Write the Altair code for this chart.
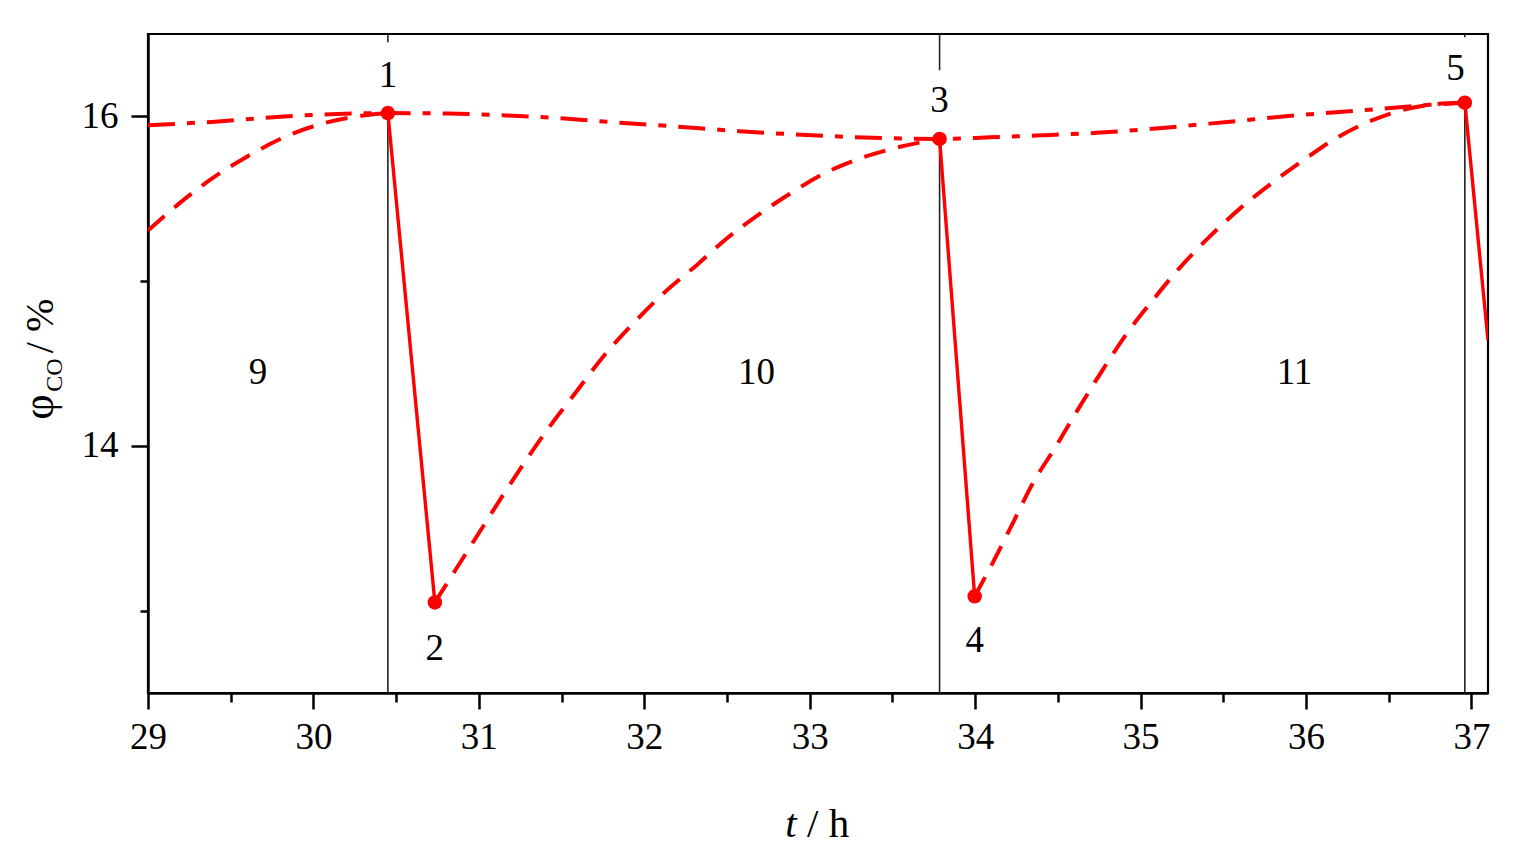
import altair as alt
import pandas as pd

# ---------------- data ----------------
# upper envelope (dash-dot)
env_t = [29.0, 29.405, 29.8, 30.106, 30.45, 30.813, 31.157, 31.52, 31.67, 32.17,
         32.577, 32.98, 33.38, 33.785, 34.09, 34.37, 34.73, 35.13, 35.54, 35.94,
         36.34, 36.75, 36.96]
env_v = [15.946, 15.968, 15.998, 16.013, 16.02, 16.017, 16.006, 15.987, 15.975, 15.94,
         15.91, 15.887, 15.87, 15.863, 15.873, 15.884, 15.90, 15.93, 15.968, 16.006,
         16.037, 16.07, 16.083]

# recovery curves (dashed)
recA_t = [29.0, 29.193, 29.39, 29.598, 29.816, 30.04, 30.28, 30.45]
recA_v = [15.307, 15.475, 15.625, 15.755, 15.87, 15.952, 16.002, 16.02]
recB_t = [30.734, 30.867, 31.006, 31.139, 31.29, 31.43, 31.59, 31.75, 31.93, 32.11,
          32.32, 32.5, 32.7, 32.88, 33.08, 33.29, 33.485, 33.785]
recB_v = [13.05, 13.26, 13.48, 13.69, 13.92, 14.12, 14.33, 14.54, 14.74, 14.92,
          15.10, 15.26, 15.41, 15.53, 15.65, 15.74, 15.80, 15.863]
recC_t = [33.997, 34.106, 34.227, 34.347, 34.49, 34.63, 34.77, 34.915, 35.07, 35.236,
          35.417, 35.6, 35.8, 36.02, 36.17, 36.34, 36.52, 36.75, 36.96]
recC_v = [13.087, 13.29, 13.53, 13.77, 14.00, 14.235, 14.46, 14.68, 14.88, 15.08,
          15.27, 15.44, 15.60, 15.76, 15.86, 15.95, 16.02, 16.07, 16.083]

# marked points 1..5
pt_label = ["1", "2", "3", "4", "5"]
pt_t = [30.45, 30.734, 33.785, 33.997, 36.96]
pt_v = [16.02, 13.05, 15.863, 13.087, 16.083]

# solid drops (segment id, t, v)
drop_seg = ["a", "a", "b", "b", "c", "c"]
drop_t = [30.45, 30.734, 33.785, 33.997, 36.96, 37.1]
drop_v = [16.02, 13.05, 15.863, 13.087, 16.083, 14.64]

# vertical separators
sep_t = [30.45, 33.785, 36.96]
sep_top = [16.02, 15.863, 16.083]
stub_bottom = [16.45, 16.28, 16.48]

# point number labels
num_t = [30.45, 30.734, 33.785, 33.997, 36.903]
num_v = [16.244, 12.766, 16.093, 12.816, 16.285]
# period labels
per_label = ["9", "10", "11"]
per_t = [29.665, 32.678, 35.93]
per_v = [14.44, 14.44, 14.44]

x_values = [29, 29.5, 30, 30.5, 31, 31.5, 32, 32.5, 33, 33.5, 34, 34.5, 35, 35.5,
            36, 36.5, 37]
y_values = [13, 14, 15, 16]

# ---------------- chart ----------------
FONT = "Liberation Serif"
RED = "#ff0000"
W, H = 1340, 659
YMIN, YMAX = 12.5, 16.5

xs = alt.Scale(domain=[29, 37.1], nice=False, zero=False)
ys = alt.Scale(domain=[YMIN, YMAX], nice=False, zero=False)

x_axis = alt.Axis(
    values=x_values, title=None, grid=False,
    labelExpr="datum.value % 1 == 0 ? toString(datum.value) : ''",
    tickSize={"condition": {"test": "datum.value % 1 != 0", "value": 9}, "value": 16},
    tickWidth=2.5, tickColor="black", domainColor="black", domainWidth=2.5,
    labelFont=FONT, labelFontSize=37, labelColor="black", labelPadding=10,
    labelOverlap=False, labelFlush=False,
)
y_axis = alt.Axis(
    values=y_values, title=None, grid=False,
    labelExpr="datum.value % 2 == 0 ? toString(datum.value) : ''",
    tickSize={"condition": {"test": "datum.value % 2 != 0", "value": 8}, "value": 17},
    tickWidth=2.5, tickColor="black", domainColor="black", domainWidth=2.5,
    labelFont=FONT, labelFontSize=37, labelColor="black", labelPadding=13,
    labelOverlap=False, labelFlush=False,
)


def X(field="t"):
    return alt.X(f"{field}:Q", scale=xs, axis=x_axis)


def Y(field="v"):
    return alt.Y(f"{field}:Q", scale=ys, axis=y_axis)


env_df = pd.DataFrame({"t": env_t, "v": env_v})
rec_df = pd.concat([
    pd.DataFrame({"t": recA_t, "v": recA_v, "c": "A"}),
    pd.DataFrame({"t": recB_t, "v": recB_v, "c": "B"}),
    pd.DataFrame({"t": recC_t, "v": recC_v, "c": "C"}),
])
pt_df = pd.DataFrame({"lab": pt_label, "t": pt_t, "v": pt_v})
drop_df = pd.DataFrame({"seg": drop_seg, "t": drop_t, "v": drop_v})
sep_df = pd.DataFrame({"t": sep_t, "v": sep_top, "v2": [YMIN] * 3})
stub_df = pd.DataFrame({"t": sep_t, "v": [YMAX] * 3, "v2": stub_bottom})
num_df = pd.DataFrame({"lab": pt_label, "t": num_t, "v": num_v})
per_df = pd.DataFrame({"lab": per_label, "t": per_t, "v": per_v})

sep = alt.Chart(sep_df).mark_rule(color="#222222", strokeWidth=1.6).encode(
    x=X(), y=Y(), y2="v2:Q")
stub = alt.Chart(stub_df).mark_rule(color="#222222", strokeWidth=1.6).encode(
    x=X(), y=Y(), y2="v2:Q")

env = alt.Chart(env_df).mark_line(
    color=RED, strokeWidth=4, strokeDash=[27, 12, 8, 12], interpolate="monotone",
    clip=True).encode(x=X(), y=Y())
rec = alt.Chart(rec_df).mark_line(
    color=RED, strokeWidth=4, strokeDash=[22, 13], interpolate="monotone",
    clip=True).encode(x=X(), y=Y(), detail="c:N")
drop = alt.Chart(drop_df).mark_line(
    color=RED, strokeWidth=3.4, clip=True).encode(x=X(), y=Y(), detail="seg:N")
pts = alt.Chart(pt_df).mark_circle(color=RED, size=210, opacity=1).encode(x=X(), y=Y())

nums = alt.Chart(num_df).mark_text(
    font=FONT, fontSize=37, color="black", baseline="middle", align="center"
).encode(x=X(), y=Y(), text="lab:N")
pers = alt.Chart(per_df).mark_text(
    font=FONT, fontSize=37, color="black", baseline="middle", align="center"
).encode(x=X(), y=Y(), text="lab:N")

one = pd.DataFrame({"a": [1]})
# x title: italic t, then " / h"
xt1 = alt.Chart(one).mark_text(text="t", font=FONT, fontSize=41, fontStyle="italic",
                               color="black", align="center", baseline="alphabetic"
                               ).encode(x=alt.value(643), y=alt.value(803))
xt2 = alt.Chart(one).mark_text(text="/ h", font=FONT, fontSize=41, color="black",
                               align="left", baseline="alphabetic"
                               ).encode(x=alt.value(659), y=alt.value(803))
# y title: phi with subscript CO, then " / %"
yt1 = alt.Chart(one).mark_text(text="φ", font=FONT, fontSize=44, color="black",
                               angle=270, align="center", baseline="alphabetic"
                               ).encode(x=alt.value(-95), y=alt.value(373))
yt2 = alt.Chart(one).mark_text(text="CO", font=FONT, fontSize=24, color="black",
                               angle=270, align="center", baseline="alphabetic"
                               ).encode(x=alt.value(-86), y=alt.value(341))
yt3 = alt.Chart(one).mark_text(text="/ %", font=FONT, fontSize=40, color="black",
                               angle=270, align="center", baseline="alphabetic"
                               ).encode(x=alt.value(-95), y=alt.value(292))

chart = alt.layer(
    sep, stub, env, rec, drop, pts, nums, pers, xt1, xt2, yt1, yt2, yt3
).properties(
    width=W, height=H,
    autosize=alt.AutoSizeParams(type="none"),
    padding={"left": 140, "top": 26, "right": 16, "bottom": 160},
    background="white",
).configure_view(stroke="black", strokeWidth=2.2)

chart.save("out.html", embed_options={"renderer": "svg", "actions": False})
